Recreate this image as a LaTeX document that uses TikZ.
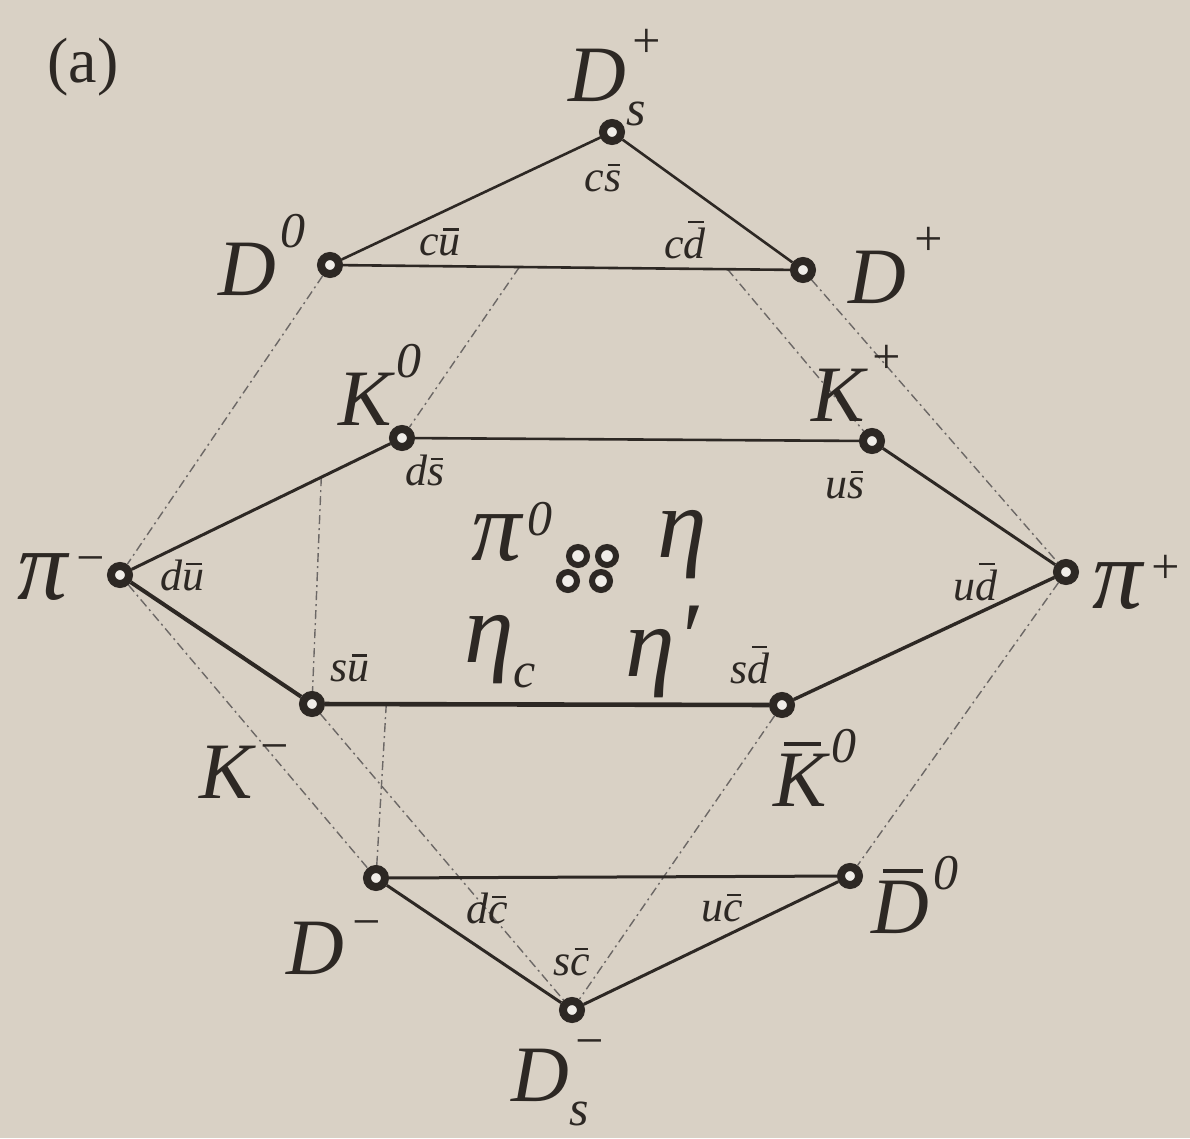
\documentclass[tikz,border=0pt]{standalone}
\usepackage{fontspec}
\setmainfont{Liberation Serif}
\definecolor{paper}{RGB}{217,209,197}
\definecolor{ink}{RGB}{45,40,36}
\newcommand\supsz{\fontsize{50}{50}\selectfont}
\newcommand\ob[1]{\setbox0\hbox{#1}\rlap{\hspace{0.2\wd0}\raisebox{\dimexpr\ht0+0.1em\relax}{\rule{0.7\wd0}{0.05em}}}\box0}
\newcommand\hsup[3][0.55em]{#2\kern0.06em\raisebox{#1}{\supsz #3}}
\newcommand\hsub[3]{#1\rlap{\kern0.04em\raisebox{0.55em}{\supsz #2}}\raisebox{-0.3em}{\supsz #3}}
\pgfdeclarelayer{paperlayer}
\pgfdeclarelayer{background}
\pgfsetlayers{paperlayer,background,main}
\begin{document}
\begin{tikzpicture}[x=1pt,y=-1pt,
  vtx/.style={circle,draw=ink,line width=8pt,fill=paper!40!white,inner sep=0pt,minimum size=18pt},
  ring/.style={circle,draw=ink,line width=6pt,fill=paper!40!white,inner sep=0pt,minimum size=18pt},
  big/.style={text=ink,font=\fontsize{80}{80}\selectfont\itshape,inner sep=0pt},
  greek/.style={text=ink,font=\fontsize{100}{100}\selectfont\itshape,inner sep=0pt},
  qk/.style={text=ink,font=\fontsize{44}{44}\selectfont\itshape,inner sep=0pt},
  edge/.style={draw=ink,line width=2.6pt},
  hid/.style={draw=ink!70,line width=1.4pt,dash pattern=on 9pt off 4pt on 2pt off 4pt},
]
\begin{pgfonlayer}{paperlayer}
\fill[paper] (0,0) rectangle (1190,1138);
\end{pgfonlayer}
\useasboundingbox (0,0) rectangle (1190,1138);

% vertices
\node[vtx] (Dsp) at (612,132) {};
\node[vtx] (D0)  at (330,265) {};
\node[vtx] (Dp)  at (803,270) {};
\node[vtx] (K0)  at (402,438) {};
\node[vtx] (Kp)  at (872,441) {};
\node[vtx] (pim) at (120,575) {};
\node[vtx] (pip) at (1066,572) {};
\node[vtx] (Km)  at (312,704) {};
\node[vtx] (K0b) at (782,705) {};
\node[vtx] (Dm)  at (376,878) {};
\node[vtx] (D0b) at (850,876) {};
\node[vtx] (Dsm) at (572,1010) {};

% centre cluster
\node[ring] (c1) at (578,556) {};
\node[ring] (c2) at (607,556) {};
\node[ring] (c3) at (568,581) {};
\node[ring] (c4) at (601,581) {};

\coordinate (a1) at (intersection of D0--Km and pim--K0);
\coordinate (a2) at (intersection of Dsp--K0 and D0--Dp);
\coordinate (a3) at (intersection of Dsp--Kp and D0--Dp);
\coordinate (a4) at (intersection of Dm--K0 and Km--K0b);

\begin{pgfonlayer}{background}
% hidden edges
\draw[hid] (D0) -- (pim);
\draw[hid] (a1) -- (Km);
\draw[hid] (a2) -- (K0);
\draw[hid] (a3) -- (Kp);
\draw[hid] (Dp) -- (pip);
\draw[hid] (pim) -- (Dm);
\draw[hid] (Km) -- (Dsm);
\draw[hid] (a4) -- (Dm);
\draw[hid] (K0b) -- (Dsm);
\draw[hid] (pip) -- (D0b);
% visible edges
\draw[edge] (D0) -- (Dsp);
\draw[edge] (Dsp) -- (Dp);
\draw[edge] (D0) -- (Dp);
\draw[edge] (K0) -- (Kp);
\draw[edge,line width=3pt] (Kp) -- (pip);
\draw[edge,line width=3.4pt] (pip) -- (K0b);
\draw[edge,line width=4.6pt] (K0b) -- (Km);
\draw[edge,line width=4pt] (Km) -- (pim);
\draw[edge,line width=3pt] (pim) -- (K0);
\draw[edge,line width=3pt] (Dm) -- (D0b);
\draw[edge,line width=3pt] (D0b) -- (Dsm);
\draw[edge,line width=3pt] (Dsm) -- (Dm);
\end{pgfonlayer}

% particle labels
\node[text=ink,font=\fontsize{64}{64}\selectfont,inner sep=0pt] (tag) at (83,67) {(a)};
\node[big] (lDsp) at (607,78) {\hsub{D}{+}{s}};
\node[big] (lD0)  at (262,255) {\hsup[0.6em]{D}{0}};
\node[big] (lDp)  at (897,265) {\hsup[0.6em]{D}{+}};
\node[big] (lK0)  at (380,385) {\hsup[0.6em]{K}{0}};
\node[big] (lKp)  at (857,383) {\hsup[0.6em]{K}{+}};
\node[greek] (lpim) at (62,577) {\hsup[0.25em]{π}{−}};
\node[greek] (lpip) at (1137,582) {\hsup[0.25em]{π}{+}};
\node[big] (lKm)  at (245,772) {\hsup[0.45em]{K}{−}};
\node[big] (lK0b) at (815,768) {\hsup{\ob{K}}{0}};
\node[big] (lDm)  at (335,948) {\hsup[0.45em]{D}{−}};
\node[big] (lD0b) at (915,895) {\hsup{\ob{D}}{0}};
\node[big] (lDsm) at (550,1083) {\hsub{D}{−}{s}};
\node[greek] (lpi0) at (512,532) {\hsup[0.25em]{π}{0}};
\node[greek] (leta) at (682,545) {η};
\node[greek] (letc) at (500,652) {η\raisebox{-0.25em}{\supsz c}};
\node[greek] (letp) at (662,652) {η\kern0.02em\raisebox{0.05em}{′}};

% quark content labels
\node[qk] (q1)  at (603,178) {c\ob{s}};
\node[qk] (q2)  at (440,242) {c\ob{u}};
\node[qk] (q3)  at (685,240) {c\ob{d}};
\node[qk] (q4)  at (425,470) {d\ob{s}};
\node[qk] (q5)  at (845,485) {u\ob{s}};
\node[qk] (q6)  at (182,575) {d\ob{u}};
\node[qk] (q7)  at (975,582) {u\ob{d}};
\node[qk] (q8)  at (350,668) {s\ob{u}};
\node[qk] (q9)  at (750,665) {s\ob{d}};
\node[qk] (q10) at (487,908) {d\ob{c}};
\node[qk] (q11) at (722,908) {u\ob{c}};
\node[qk] (q12) at (572,962) {s\ob{c}};
\end{tikzpicture}
\end{document}
